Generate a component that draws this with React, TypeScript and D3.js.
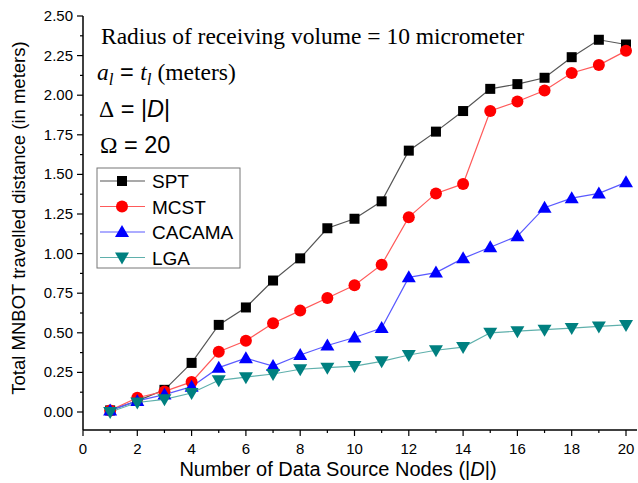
import React from "react";
import * as d3 from "d3";

const xValues = [1, 2, 3, 4, 5, 6, 7, 8, 9, 10, 11, 12, 13, 14, 15, 16, 17, 18, 19, 20];
const spt = [0.01, 0.07, 0.14, 0.31, 0.55, 0.66, 0.83, 0.97, 1.16, 1.22, 1.33, 1.65, 1.77, 1.9, 2.04, 2.07, 2.11, 2.24, 2.35, 2.32];
const mcst = [0.01, 0.09, 0.13, 0.19, 0.38, 0.45, 0.56, 0.64, 0.72, 0.8, 0.93, 1.23, 1.38, 1.44, 1.9, 1.96, 2.03, 2.14, 2.19, 2.28];
const cacama = [0.01, 0.07, 0.11, 0.16, 0.28, 0.34, 0.29, 0.36, 0.42, 0.47, 0.53, 0.85, 0.88, 0.97, 1.04, 1.11, 1.29, 1.35, 1.38, 1.45];
const lga = [0.0, 0.06, 0.08, 0.12, 0.2, 0.22, 0.24, 0.27, 0.28, 0.29, 0.32, 0.36, 0.39, 0.41, 0.5, 0.51, 0.52, 0.53, 0.54, 0.55];
const seriesNames = ["SPT", "MCST", "CACAMA", "LGA"];
const xTickLabels = [0, 2, 4, 6, 8, 10, 12, 14, 16, 18, 20];
const yTickLabels = [0, 0.25, 0.5, 0.75, 1.0, 1.25, 1.5, 1.75, 2.0, 2.25, 2.5];

const styles = [
  { line: "#555555", fill: "#000000", shape: "square" },
  { line: "#ff5a5a", fill: "#ff0000", shape: "circle" },
  { line: "#5a5aff", fill: "#0000ff", shape: "up" },
  { line: "#5fb0ac", fill: "#008080", shape: "down" },
];

const SANS = "Arial, 'Liberation Sans', sans-serif";
const SERIF = "'Times New Roman', 'Liberation Serif', serif";

function Marker({ shape, x, y, fill }: { shape: string; x: number; y: number; fill: string }) {
  if (shape === "square") return <rect x={x - 5} y={y - 5} width={10} height={10} fill={fill} />;
  if (shape === "circle") return <circle cx={x} cy={y} r={6} fill={fill} />;
  if (shape === "up") return <path d={`M${x},${y - 7} L${x + 7},${y + 5} L${x - 7},${y + 5} Z`} fill={fill} />;
  return <path d={`M${x},${y + 7} L${x + 7},${y - 5} L${x - 7},${y - 5} Z`} fill={fill} />;
}

export default function App() {
  const x = d3.scaleLinear().domain([0, 20]).range([83, 626]);
  const y = d3.scaleLinear().domain([0, 2.5]).range([412, 16]);
  const axisBottom = 430;
  const axisRight = 637;
  const allSeries = [spt, mcst, cacama, lga];
  const line = d3
    .line<number>()
    .x((_, i) => x(xValues[i]))
    .y((d) => y(d));

  const xMinor = d3.range(0, 21, 1);
  const yMinor = d3.range(0, 2.5001, 0.125);

  return (
    <svg width={638} height={483} style={{ position: "absolute", left: 0, top: 0, background: "#fff" }}>
      <rect x={0} y={0} width={638} height={483} fill="#fff" />
      {/* axes */}
      <line x1={83} y1={16} x2={83} y2={axisBottom} stroke="#000" strokeWidth={1.5} />
      <line x1={83} y1={axisBottom} x2={axisRight} y2={axisBottom} stroke="#000" strokeWidth={1.5} />
      {yMinor.map((v, i) => {
        const major = i % 2 === 0;
        return <line key={"ym" + i} x1={major ? 77 : 80} x2={83} y1={y(v)} y2={y(v)} stroke="#000" strokeWidth={1.2} />;
      })}
      {yTickLabels.map((v) => (
        <text key={"yl" + v} x={73} y={y(v) + 5} textAnchor="end" fontFamily={SANS} fontSize={15} fill="#000">
          {v.toFixed(2)}
        </text>
      ))}
      {xMinor.map((v) => {
        const major = v % 2 === 0;
        return <line key={"xm" + v} x1={x(v)} x2={x(v)} y1={axisBottom} y2={axisBottom + (major ? 6 : 3)} stroke="#000" strokeWidth={1.2} />;
      })}
      {xTickLabels.map((v) => (
        <text key={"xl" + v} x={x(v)} y={454} textAnchor="middle" fontFamily={SANS} fontSize={15} fill="#000">
          {v}
        </text>
      ))}
      <text x={338} y={476} textAnchor="middle" fontFamily={SANS} fontSize={20} fill="#000">
        Number of Data Source Nodes (|<tspan fontStyle="italic">D</tspan>|)
      </text>
      <text
        transform={`translate(25,${(16 + 412) / 2 + 4}) rotate(-90)`}
        textAnchor="middle"
        fontFamily={SANS}
        fontSize={18.5}
        fill="#000"
      >
        Total MNBOT travelled distance (in meters)
      </text>

      {/* series */}
      {allSeries.map((s, si) => (
        <path key={"l" + si} d={line(s) || ""} fill="none" stroke={styles[si].line} strokeWidth={1.2} />
      ))}
      {allSeries.map((s, si) =>
        s.map((v, i) => (
          <Marker key={`m${si}-${i}`} shape={styles[si].shape} x={x(xValues[i])} y={y(v)} fill={styles[si].fill} />
        ))
      )}

      {/* annotations */}
      <text x={101} y={44} fontFamily={SERIF} fontSize={23.5} fill="#000">
        Radius of receiving volume = 10 micrometer
      </text>
      <text x={97} y={80} fontSize={23.5} fill="#000">
        <tspan fontFamily={SERIF} fontStyle="italic">a</tspan>
        <tspan fontFamily={SERIF} fontStyle="italic" fontSize={17} dy={5}>l</tspan>
        <tspan fontFamily={SANS} dy={-5}> = </tspan>
        <tspan fontFamily={SERIF} fontStyle="italic">t</tspan>
        <tspan fontFamily={SERIF} fontStyle="italic" fontSize={17} dy={5}>l</tspan>
        <tspan fontFamily={SERIF} dy={-5}> (meters)</tspan>
      </text>
      <text x={99} y={117} fontSize={23.5} fill="#000">
        <tspan fontFamily={SERIF}>Δ</tspan>
        <tspan fontFamily={SANS}> = |</tspan>
        <tspan fontFamily={SANS} fontStyle="italic">D</tspan>
        <tspan fontFamily={SANS}>|</tspan>
      </text>
      <text x={100} y={153} fontSize={23.5} fill="#000">
        <tspan fontFamily={SERIF}>Ω</tspan>
        <tspan fontFamily={SANS}> = 20</tspan>
      </text>

      {/* legend */}
      <rect x={97} y={168} width={143} height={100} fill="#fff" stroke="#777" strokeWidth={1} />
      {seriesNames.map((name, i) => {
        const cy = 181 + i * 25.5;
        return (
          <g key={"lg" + name}>
            <line x1={100} x2={145} y1={cy} y2={cy} stroke={styles[i].line} strokeWidth={1.2} />
            <Marker shape={styles[i].shape} x={122} y={cy} fill={styles[i].fill} />
            <text x={152} y={cy + 7} fontFamily={SANS} fontSize={19} fill="#000">
              {name}
            </text>
          </g>
        );
      })}
    </svg>
  );
}
